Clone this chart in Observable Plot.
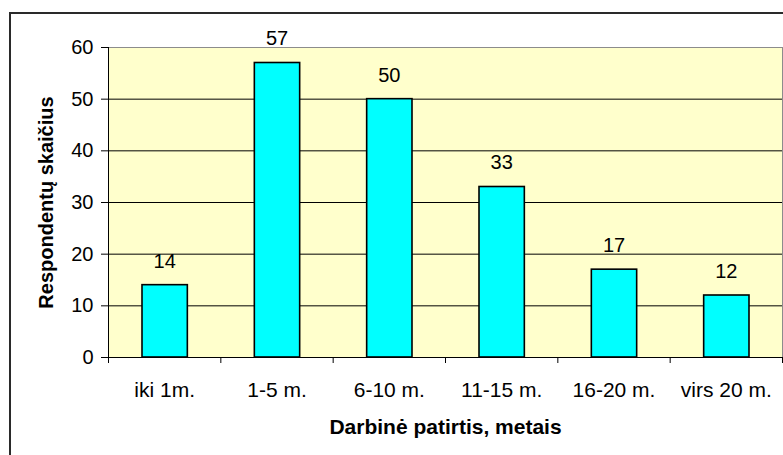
<!DOCTYPE html>
<html>
<head>
<meta charset="utf-8">
<script src="https://cdn.jsdelivr.net/npm/d3@7"></script>
<script src="https://cdn.jsdelivr.net/npm/@observablehq/plot@0.6"></script>
<style>
  html, body { margin: 0; padding: 0; background: #fff; overflow: hidden; }
  #wrap { position: relative; width: 783px; height: 455px; overflow: hidden; }
  #border { position: absolute; left: 9px; top: 12px; width: 820px; height: 520px;
            border: 2px solid #2a2a2a; box-sizing: border-box; }
  #chart { position: absolute; left: 0; top: 0; }
</style>
</head>
<body>
<div id="wrap">
  <div id="border"></div>
  <div id="chart"></div>
</div>
<script>
// Work experience groups and number of respondents in each
const categories = ["iki 1m.", "1-5 m.", "6-10 m.", "11-15 m.", "16-20 m.", "virs 20 m."];
const counts = [14, 57, 50, 33, 17, 12];
const yTicks = [0, 10, 20, 30, 40, 50, 60];
const xTitle = "Darbinė patirtis, metais";
const yTitle = "Respondentų skaičius";

const rows = categories.map((cat, i) => ({cat, i, value: counts[i]}));
const font = "Arial, 'Liberation Sans', sans-serif";

const chart = Plot.plot({
  width: 783,
  height: 455,
  marginLeft: 108,
  marginRight: 1,
  marginTop: 47,
  marginBottom: 98,
  style: {fontFamily: font, fontSize: "20px", background: "transparent", color: "#000", overflow: "visible"},
  x: {domain: [0, categories.length]},
  y: {domain: [0, 60]},
  marks: [
    // plot area
    Plot.frame({fill: "#FFFFCC", stroke: "#8c8c8c"}),
    // horizontal gridlines
    Plot.ruleY(yTicks.filter(v => v > 0 && v < 60), {stroke: "#000", strokeWidth: 1}),
    // bars
    Plot.rectY(rows, {
      x1: "i", x2: d => d.i + 1, y: "value",
      insetLeft: 34, insetRight: 33,
      fill: "#00FFFF", stroke: "#000", strokeWidth: 1.6
    }),
    // value labels
    Plot.text(rows, {x: d => d.i + 0.5, y: "value", text: d => String(d.value), dy: -24, fontSize: 20, fill: "#000"}),
    // axis lines
    Plot.ruleY([0], {stroke: "#000"}),
    Plot.ruleX([0], {stroke: "#000"}),
    Plot.axisY({ticks: yTicks, tickSize: 7, tickPadding: 8, fontSize: 20, label: null}),
    // category boundary ticks
    Plot.axisX({ticks: d3.range(categories.length + 1), tickSize: 6, tickFormat: () => "", label: null}),
    // category labels centred in each band
    Plot.axisX({
      ticks: categories.map((_, i) => i + 0.5), tickSize: 0, tickPadding: 25,
      tickFormat: v => categories[Math.floor(v)], fontSize: 21, label: null
    }),
    // axis titles
    Plot.text([xTitle], {frameAnchor: "bottom", lineAnchor: "top", dy: 62, fontWeight: "bold", fontSize: 21}),
    Plot.text([yTitle], {frameAnchor: "left", textAnchor: "middle", rotate: -90, dx: -62, fontWeight: "bold", fontSize: 20})
  ]
});

document.getElementById("chart").append(chart);
</script>
</body>
</html>
